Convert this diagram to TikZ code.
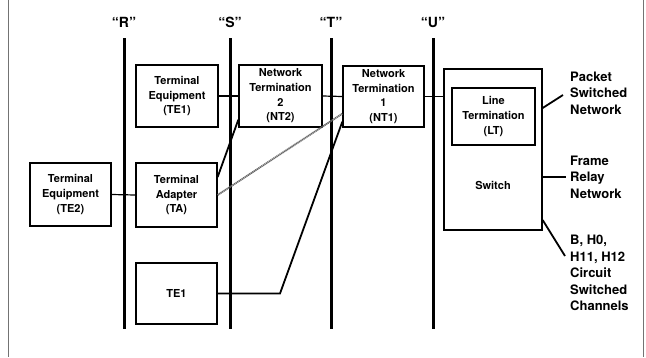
\documentclass[tikz,border=0pt]{standalone}
\usepackage{fontspec}
\setmainfont{TeX Gyre Heros}
\begin{document}
\begin{tikzpicture}[x=1pt,y=-1pt,
  refline/.style={line width=3pt},
  border/.style={draw=black!55, line width=1pt},
  box/.style={draw, line width=1.3pt, inner sep=0pt, align=center,
    font=\bfseries\fontsize{11}{14.7}\selectfont},
  link/.style={line width=1.2pt},
  slant/.style={line width=1.8pt},
  hatch/.style={draw=black!60, line width=1.8pt, dash pattern=on 1.2pt off 0.6pt},
  reflabel/.style={font=\bfseries\fontsize{14}{16}\selectfont, inner sep=0pt},
  sidetext/.style={font=\bfseries\fontsize{13}{16.4}\selectfont, align=left,
    anchor=west, inner sep=0pt}]
\useasboundingbox (0,0) rectangle (646,357);

% page edges
\coordinate (lt) at (8,0);   \coordinate (lb) at (8,357);
\coordinate (rt) at (643,0); \coordinate (rb) at (643,357);
\draw[border] (lt) -- (lb);
\draw[border] (rt) -- (rb);

% reference points R, S, T, U
\foreach \n/\x in {R/124,S/230,T/331,U/433}{
  \coordinate (\n top) at (\x,38);
  \coordinate (\n bot) at (\x,329);
  \draw[refline] (\n top) -- (\n bot);
  \node[reflabel] (\n lab) at (\x,22) {“\n”};
}

% functional groups
\node[box, minimum width=82pt, minimum height=62pt] (te1) at (177,96)
  {Terminal\\Equipment\\(TE1)};
\node[box, minimum width=83pt, minimum height=62pt] (nt2) at (280.5,96)
  {Network\\Termination\\2\\(NT2)};
\node[box, minimum width=81pt, minimum height=61pt] (nt1) at (383.5,96.5)
  {Network\\Termination\\1\\(NT1)};
\node[box, minimum width=98pt, minimum height=161pt] (sw) at (493,149.5) {};
\node[box, line width=1.1pt, minimum width=83pt, minimum height=57pt] (lt) at (493.5,116.5)
  {Line\\Termination\\(LT)};
\node[font=\bfseries\fontsize{11}{14.7}\selectfont] (swl) at (493,185) {Switch};
\node[box, minimum width=81pt, minimum height=63pt] (te2) at (70.5,194.5)
  {Terminal\\Equipment\\(TE2)};
\node[box, minimum width=81pt, minimum height=64pt] (ta) at (176.5,195)
  {Terminal\\Adapter\\(TA)};
\node[box, minimum width=81pt, minimum height=61pt] (te1b) at (176.5,293.5)
  {TE1};

% network side labels
\node[sidetext] (psn) at (570,93) {Packet\\Switched\\Network};
\node[sidetext] (frn) at (570,177) {Frame\\Relay\\Network};
\node[sidetext] (csc) at (570,273) {B, H0,\\H11, H12\\Circuit\\Switched\\Channels};

% connections between groups
\draw[link] (te1.east) -- (nt2.west);
\draw[link] (nt2.east) -- (nt1.west);
\draw[link] (nt1.east) -- (nt1.east -| sw.west);
\draw[link] (te2.east) -- (ta.west);
\draw[slant] ([yshift=18pt]ta.east) -- ([yshift=8pt]nt2.south west);
\draw[hatch] (ta.east) -- ([yshift=14pt]nt1.south west);
\coordinate (kink) at (280,0);
\draw[slant] (te1b.east) -- (te1b.east -| kink) -- ([yshift=6pt]nt1.south west);

% switch outputs
\draw[slant] ([yshift=41.5pt]sw.east) -- ([xshift=-7pt,yshift=-2pt]psn.west);
\draw[link] (sw.east |- frn.west) -- ([xshift=-4pt]frn.west);
\draw[slant] ([yshift=-70.5pt]sw.east) -- ([xshift=-5pt,yshift=17pt]csc.west);
\end{tikzpicture}
\end{document}
